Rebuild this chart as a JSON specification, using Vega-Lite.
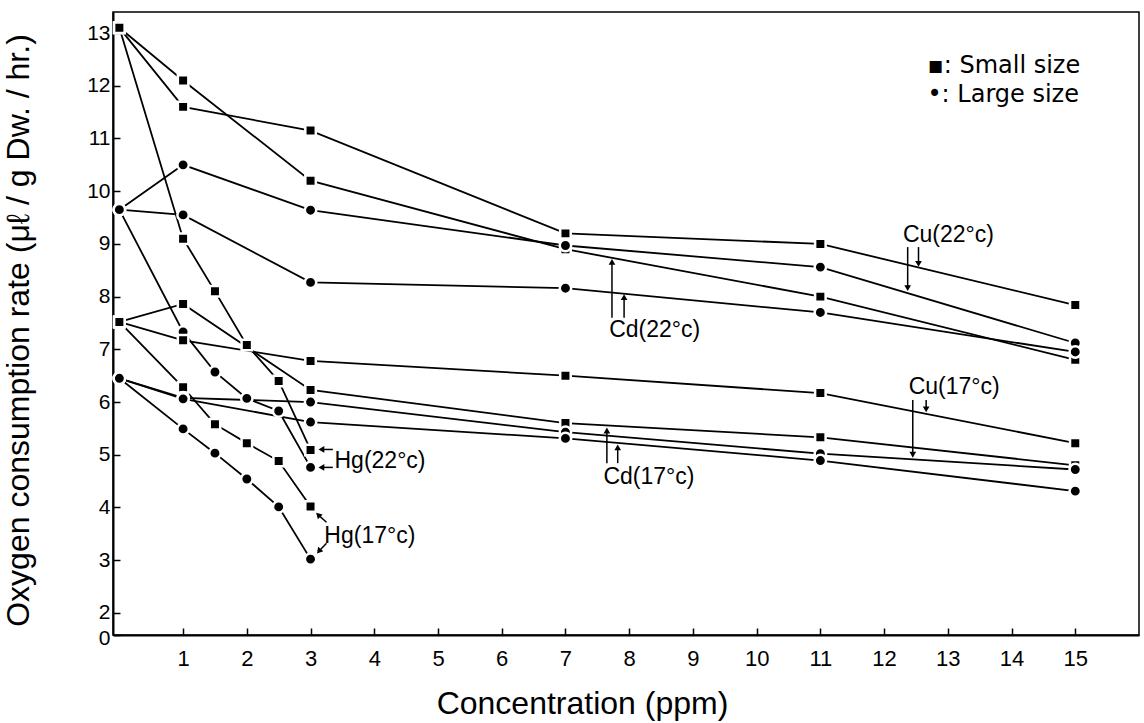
{
  "$schema": "https://vega.github.io/schema/vega-lite/v6.json",
  "width": 1026,
  "height": 623,
  "autosize": {"type": "none"},
  "padding": {"left": 113, "top": 12, "right": 5, "bottom": 88},
  "background": "white",
  "config": {"view": {"stroke": "black", "strokeWidth": 1.5}, "font": "Liberation Sans"},
  "datasets": {
    "series": [
      {"series": "Cu22S", "size": "Small", "x": 0, "y": 13.1}, {"series": "Cu22S", "size": "Small", "x": 1, "y": 11.6}, {"series": "Cu22S", "size": "Small", "x": 3, "y": 11.15}, {"series": "Cu22S", "size": "Small", "x": 7, "y": 9.2}, {"series": "Cu22S", "size": "Small", "x": 11, "y": 9.0}, {"series": "Cu22S", "size": "Small", "x": 15, "y": 7.84},
      {"series": "Cd22S", "size": "Small", "x": 0, "y": 13.1}, {"series": "Cd22S", "size": "Small", "x": 1, "y": 12.1}, {"series": "Cd22S", "size": "Small", "x": 3, "y": 10.2}, {"series": "Cd22S", "size": "Small", "x": 7, "y": 8.9}, {"series": "Cd22S", "size": "Small", "x": 11, "y": 8.0}, {"series": "Cd22S", "size": "Small", "x": 15, "y": 6.8},
      {"series": "Hg22S", "size": "Small", "x": 0, "y": 13.1}, {"series": "Hg22S", "size": "Small", "x": 1, "y": 9.1}, {"series": "Hg22S", "size": "Small", "x": 1.5, "y": 8.1}, {"series": "Hg22S", "size": "Small", "x": 2, "y": 7.08}, {"series": "Hg22S", "size": "Small", "x": 2.5, "y": 6.4}, {"series": "Hg22S", "size": "Small", "x": 3, "y": 5.09},
      {"series": "Cu22L", "size": "Large", "x": 0, "y": 9.65}, {"series": "Cu22L", "size": "Large", "x": 1, "y": 10.5}, {"series": "Cu22L", "size": "Large", "x": 3, "y": 9.64}, {"series": "Cu22L", "size": "Large", "x": 7, "y": 8.97}, {"series": "Cu22L", "size": "Large", "x": 11, "y": 8.56}, {"series": "Cu22L", "size": "Large", "x": 15, "y": 7.12},
      {"series": "Cd22L", "size": "Large", "x": 0, "y": 9.65}, {"series": "Cd22L", "size": "Large", "x": 1, "y": 9.55}, {"series": "Cd22L", "size": "Large", "x": 3, "y": 8.27}, {"series": "Cd22L", "size": "Large", "x": 7, "y": 8.16}, {"series": "Cd22L", "size": "Large", "x": 11, "y": 7.7}, {"series": "Cd22L", "size": "Large", "x": 15, "y": 6.95},
      {"series": "Hg22L", "size": "Large", "x": 0, "y": 9.65}, {"series": "Hg22L", "size": "Large", "x": 1, "y": 7.33}, {"series": "Hg22L", "size": "Large", "x": 1.5, "y": 6.57}, {"series": "Hg22L", "size": "Large", "x": 2, "y": 6.07}, {"series": "Hg22L", "size": "Large", "x": 2.5, "y": 5.83}, {"series": "Hg22L", "size": "Large", "x": 3, "y": 4.76},
      {"series": "Cu17S", "size": "Small", "x": 0, "y": 7.52}, {"series": "Cu17S", "size": "Small", "x": 1, "y": 7.17}, {"series": "Cu17S", "size": "Small", "x": 3, "y": 6.78}, {"series": "Cu17S", "size": "Small", "x": 7, "y": 6.5}, {"series": "Cu17S", "size": "Small", "x": 11, "y": 6.17}, {"series": "Cu17S", "size": "Small", "x": 15, "y": 5.22},
      {"series": "Cd17S", "size": "Small", "x": 0, "y": 7.52}, {"series": "Cd17S", "size": "Small", "x": 1, "y": 7.86}, {"series": "Cd17S", "size": "Small", "x": 3, "y": 6.23}, {"series": "Cd17S", "size": "Small", "x": 7, "y": 5.6}, {"series": "Cd17S", "size": "Small", "x": 11, "y": 5.33}, {"series": "Cd17S", "size": "Small", "x": 15, "y": 4.8},
      {"series": "Hg17S", "size": "Small", "x": 0, "y": 7.52}, {"series": "Hg17S", "size": "Small", "x": 1, "y": 6.28}, {"series": "Hg17S", "size": "Small", "x": 1.5, "y": 5.58}, {"series": "Hg17S", "size": "Small", "x": 2, "y": 5.22}, {"series": "Hg17S", "size": "Small", "x": 2.5, "y": 4.88}, {"series": "Hg17S", "size": "Small", "x": 3, "y": 4.02},
      {"series": "Cu17L", "size": "Large", "x": 0, "y": 6.45}, {"series": "Cu17L", "size": "Large", "x": 1, "y": 6.08}, {"series": "Cu17L", "size": "Large", "x": 3, "y": 6.0}, {"series": "Cu17L", "size": "Large", "x": 7, "y": 5.43}, {"series": "Cu17L", "size": "Large", "x": 11, "y": 5.02}, {"series": "Cu17L", "size": "Large", "x": 15, "y": 4.72},
      {"series": "Cd17L", "size": "Large", "x": 0, "y": 6.45}, {"series": "Cd17L", "size": "Large", "x": 1, "y": 6.06}, {"series": "Cd17L", "size": "Large", "x": 3, "y": 5.62}, {"series": "Cd17L", "size": "Large", "x": 7, "y": 5.31}, {"series": "Cd17L", "size": "Large", "x": 11, "y": 4.89}, {"series": "Cd17L", "size": "Large", "x": 15, "y": 4.31},
      {"series": "Hg17L", "size": "Large", "x": 0, "y": 6.45}, {"series": "Hg17L", "size": "Large", "x": 1, "y": 5.49}, {"series": "Hg17L", "size": "Large", "x": 1.5, "y": 5.03}, {"series": "Hg17L", "size": "Large", "x": 2, "y": 4.54}, {"series": "Hg17L", "size": "Large", "x": 2.5, "y": 4.01}, {"series": "Hg17L", "size": "Large", "x": 3, "y": 3.02}
    ],
    "arrows": [
      {"x": 12.37, "y": 8.94, "x2": 12.37, "y2": 8.16, "heading": 180},
      {"x": 12.54, "y": 8.94, "x2": 12.54, "y2": 8.62, "heading": 180},
      {"x": 7.73, "y": 7.6, "x2": 7.73, "y2": 8.66, "heading": 0},
      {"x": 7.92, "y": 7.6, "x2": 7.92, "y2": 7.99, "heading": 0},
      {"x": 3.35, "y": 5.1, "x2": 3.17, "y2": 5.1, "heading": 270},
      {"x": 3.35, "y": 4.76, "x2": 3.17, "y2": 4.76, "heading": 270},
      {"x": 3.25, "y": 3.72, "x2": 3.12, "y2": 3.86, "heading": 315},
      {"x": 3.25, "y": 3.32, "x2": 3.13, "y2": 3.17, "heading": 220},
      {"x": 12.45, "y": 6.04, "x2": 12.45, "y2": 5.0, "heading": 180},
      {"x": 12.66, "y": 6.04, "x2": 12.66, "y2": 5.86, "heading": 180},
      {"x": 7.65, "y": 4.84, "x2": 7.65, "y2": 5.46, "heading": 0},
      {"x": 7.82, "y": 4.84, "x2": 7.82, "y2": 5.14, "heading": 0}
    ],
    "labels": [
      {"text": "Cu(22°c)", "x": 13.01, "y": 9.17},
      {"text": "Cd(22°c)", "x": 8.4, "y": 7.36},
      {"text": "Hg(22°c)", "x": 4.09, "y": 4.88},
      {"text": "Hg(17°c)", "x": 3.93, "y": 3.46},
      {"text": "Cu(17°c)", "x": 13.1, "y": 6.28},
      {"text": "Cd(17°c)", "x": 8.31, "y": 4.58}
    ],
    "legend": [
      {"text": "▪: Small size", "x": 12.68, "y": 12.37},
      {"text": "•: Large size", "x": 12.68, "y": 11.83}
    ]
  },
  "layer": [
    {
      "data": {"name": "series"},
      "mark": {"type": "line", "color": "black", "strokeWidth": 1.8},
      "encoding": {
        "x": {
          "field": "x", "type": "quantitative",
          "scale": {"domain": [-0.1, 16], "nice": false, "zero": false},
          "axis": {
            "title": "Concentration (ppm)", "values": [1, 2, 3, 4, 5, 6, 7, 8, 9, 10, 11, 12, 13, 14, 15], "format": "d",
            "grid": false, "tickSize": -7, "tickWidth": 1.5, "tickColor": "black", "domainColor": "black", "domainWidth": 2,
            "labelFontSize": 22, "labelColor": "black", "labelPadding": 20, "labelFont": "Liberation Sans",
            "titleFontSize": 32, "titleFontWeight": "normal", "titleColor": "black", "titleFont": "Liberation Sans",
            "titleX": 469, "titleY": 68, "titleBaseline": "middle"
          }
        },
        "y": {
          "field": "y", "type": "quantitative",
          "scale": {"domain": [1.58, 13.4], "nice": false, "zero": false},
          "axis": {
            "title": "Oxygen consumption rate (μℓ / g Dw. / hr.)", "values": [1.58, 2, 3, 4, 5, 6, 7, 8, 9, 10, 11, 12, 13],
            "labelExpr": "datum.value < 1.9 ? '0' : format(datum.value, 'd')",
            "labelOffset": {"condition": {"test": "datum.value < 1.9", "value": 3}, "value": 0},
            "grid": false, "tickSize": -7, "tickWidth": 1.5, "tickColor": "black", "domainColor": "black", "domainWidth": 2,
            "labelFontSize": 21, "labelColor": "black", "labelPadding": 10, "labelFont": "Liberation Sans",
            "labelOverlap": false, "labelFlush": false,
            "titleFontSize": 32, "titleFontWeight": "normal", "titleColor": "black", "titleFont": "Liberation Sans",
            "titleX": -95, "titleY": 318, "titleBaseline": "middle", "titleAlign": "center"
          }
        },
        "detail": {"field": "series"}
      }
    },
    {
      "data": {"name": "series"},
      "mark": {"type": "point", "filled": true, "fill": "black", "stroke": "white", "strokeWidth": 2.5, "opacity": 1},
      "encoding": {
        "x": {"field": "x", "type": "quantitative"},
        "y": {"field": "y", "type": "quantitative"},
        "shape": {"field": "size", "type": "nominal", "scale": {"domain": ["Small", "Large"], "range": ["square", "circle"]}, "legend": null},
        "size": {"field": "size", "type": "nominal", "scale": {"domain": ["Small", "Large"], "range": [110, 130]}, "legend": null}
      }
    },
    {
      "data": {"name": "arrows"},
      "mark": {"type": "rule", "color": "black", "strokeWidth": 1.5},
      "encoding": {
        "x": {"field": "x", "type": "quantitative"},
        "y": {"field": "y", "type": "quantitative"},
        "x2": {"field": "x2"},
        "y2": {"field": "y2"}
      }
    },
    {
      "data": {"name": "arrows"},
      "mark": {"type": "point", "shape": "triangle-up", "filled": true, "color": "black", "size": 45, "opacity": 1},
      "encoding": {
        "x": {"field": "x2", "type": "quantitative"},
        "y": {"field": "y2", "type": "quantitative"},
        "angle": {"field": "heading", "type": "quantitative", "scale": null}
      }
    },
    {
      "data": {"name": "labels"},
      "mark": {"type": "text", "fontSize": 23, "font": "Liberation Sans", "color": "black", "align": "center", "baseline": "middle"},
      "encoding": {
        "x": {"field": "x", "type": "quantitative"},
        "y": {"field": "y", "type": "quantitative"},
        "text": {"field": "text"}
      }
    },
    {
      "data": {"name": "legend"},
      "mark": {"type": "text", "fontSize": 24, "font": "DejaVu Sans", "color": "black", "align": "left", "baseline": "middle"},
      "encoding": {
        "x": {"field": "x", "type": "quantitative"},
        "y": {"field": "y", "type": "quantitative"},
        "text": {"field": "text"}
      }
    }
  ]
}
